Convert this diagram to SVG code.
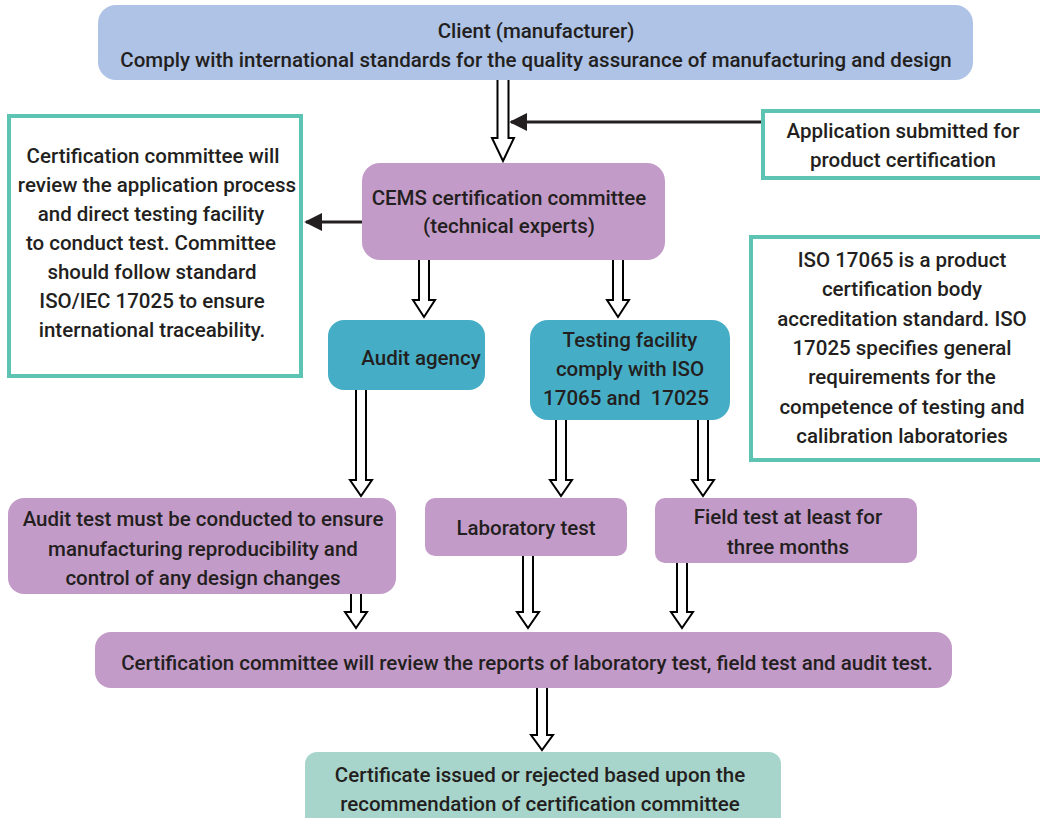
<svg xmlns="http://www.w3.org/2000/svg" width="1040" height="818" viewBox="0 0 1040 818">
<defs>
<style>
text{font-family:Roboto,"Liberation Sans",sans-serif;font-weight:500;font-size:20.5px;fill:#231f20;text-anchor:middle}
.purple{fill:#c39bc8}
.blue{fill:#aec3e6}
.teal{fill:#45aec6}
.mint{fill:#a8d5cb}
.outline{fill:#fff;stroke:#5dc4b3;stroke-width:4}
.blk{fill:#fff;stroke:#000;stroke-width:2}
.line{stroke:#231f20;stroke-width:3;fill:none}
</style>
<marker id="ah" viewBox="0 0 10 10" refX="9" refY="5" markerWidth="6" markerHeight="6" markerUnits="strokeWidth" orient="auto"><path d="M0,0 L10,5 L0,10 z" fill="#231f20"/></marker>
</defs>
<rect width="1040" height="818" fill="#fff"/>

<g id="client"><rect class="blue" x="98" y="5" width="875" height="75" rx="18"/>
<text x="536" y="38">Client (manufacturer)</text>
<text x="536" y="67">Comply with international standards for the quality assurance of manufacturing and design</text></g>

<g id="application"><rect class="outline" x="763" y="111" width="285" height="67"/>
<text x="903" y="138">Application submitted for</text>
<text x="903" y="167">product certification</text></g>

<g id="left-note"><rect class="outline" x="9" y="116" width="292" height="260"/>
<text x="153" y="163">Certification committee will</text>
<text x="157" y="192">review the application process</text>
<text x="151" y="221">and direct testing facility</text>
<text x="151" y="250">to conduct test. Committee</text>
<text x="152" y="279">should follow standard</text>
<text x="152" y="308">ISO/IEC 17025 to ensure</text>
<text x="152" y="337">international traceability.</text></g>

<g id="cems"><rect class="purple" x="362" y="163" width="303" height="97" rx="18"/>
<text x="509" y="205">CEMS certification committee</text>
<text x="509" y="233">(technical experts)</text></g>

<g id="iso-note"><rect class="outline" x="751" y="237" width="293" height="223"/>
<text x="902" y="267">ISO 17065 is a product</text>
<text x="902" y="296">certification body</text>
<text x="902" y="326">accreditation standard. ISO</text>
<text x="902" y="355">17025 specifies general</text>
<text x="902" y="384">requirements for the</text>
<text x="902" y="414">competence of testing and</text>
<text x="902" y="443">calibration laboratories</text></g>

<g id="audit-agency"><rect class="teal" x="328" y="320" width="157" height="70" rx="16"/>
<text x="421" y="365">Audit agency</text></g>

<g id="testing-facility"><rect class="teal" x="530" y="320" width="200" height="100" rx="18"/>
<text x="630" y="347">Testing facility</text>
<text x="630" y="376">comply with ISO</text>
<text x="626" y="405">17065 and&#160; 17025</text></g>

<g id="audit-test"><rect class="purple" x="8" y="498" width="388" height="96" rx="16"/>
<text x="203" y="526">Audit test must be conducted to ensure</text>
<text x="203" y="556">manufacturing reproducibility and</text>
<text x="203" y="585">control of any design changes</text></g>

<g id="lab-test"><rect class="purple" x="425" y="498" width="202" height="58" rx="10"/>
<text x="526" y="535">Laboratory test</text></g>

<g id="field-test"><rect class="purple" x="655" y="498" width="262" height="65" rx="10"/>
<text x="788" y="524">Field test at least for</text>
<text x="788" y="554">three months</text></g>

<g id="review"><rect class="purple" x="95" y="632" width="857" height="56" rx="16"/>
<text x="527" y="670">Certification committee will review the reports of laboratory test, field test and audit test.</text></g>

<g id="final"><rect class="mint" x="305" y="752" width="476" height="80" rx="12"/>
<text x="540" y="782">Certificate issued or rejected based upon the</text>
<text x="540" y="811">recommendation of certification committee</text></g>

<g id="connectors">
<path class="blk" d="M497.5,80 V138 H492 L503,161 L514,138 H508.5 V80"/>
<line class="line" x1="761" y1="122" x2="511" y2="122" marker-end="url(#ah)"/>
<line class="line" x1="362" y1="222" x2="306" y2="222" marker-end="url(#ah)"/>
<path class="blk" d="M419,260 V300 H413 L424,317 L435,300 H429 V260"/>
<path class="blk" d="M613,260 V300 H607 L618,317 L629,300 H623 V260"/>
<path class="blk" d="M356,390 V480 H350 L361,496 L372,480 H366 V390"/>
<path class="blk" d="M556,420 V480 H550 L561,496 L572,480 H566 V420"/>
<path class="blk" d="M698,420 V480 H692 L703,496 L714,480 H708 V420"/>
<path class="blk" d="M351,594 V612 H345 L356,628 L367,612 H361 V594"/>
<path class="blk" d="M523,556 V612 H517 L528,628 L539,612 H533 V556"/>
<path class="blk" d="M677,563 V612 H671 L682,628 L693,612 H687 V563"/>
<path class="blk" d="M537,688 V735 H531 L542,750 L553,735 H547 V688"/>
</g>
</svg>
